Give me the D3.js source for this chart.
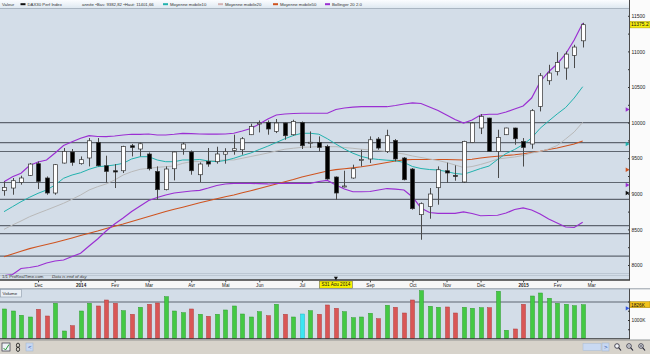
<!DOCTYPE html>
<html>
<head>
<meta charset="utf-8">
<script src="https://cdnjs.cloudflare.com/ajax/libs/d3/7.8.5/d3.min.js"></script>
<style>
  body { margin: 0; background: #fff; }
  svg { display: block; font-family: "Liberation Sans", Arial, sans-serif; }
</style>
</head>
<body>
<svg id="chart" width="650" height="354"></svg>
<script>
// DAX30 weekly candles, Nov 2013 -> Feb 2015
const weeks = d3.utcMonday.range(new Date(Date.UTC(2013, 10, 4)), new Date(Date.UTC(2015, 1, 24)));

const open = [9044,9081,9160,9258,9423,9222,9011,9432,9587,9423,
  9503,9722,9394,9324,9324,9675,9629,9559,9314,9058,
  9352,9629,9587,9268,9455,9451,9556,9609,9619,9830,
  9984,10002,9876,9994,9830,10002,9718,9722,9665,9236,
  9096,9222,9475,9489,9769,9595,9750,9503,9348,8707,
  8823,9086,9324,9258,9166,9722,9924,10064,9595,9830,
  9924,9736,9699,10227,10588,10718,10766,10943,11149];
const high = [9174,9222,9254,9432,9455,9244,9418,9643,9629,9525,
  9783,9783,9535,9418,9675,9699,9722,9581,9385,9385,
  9595,9722,9609,9441,9643,9661,9640,9830,9797,9984,
  10030,10030,10050,10002,10040,10016,9876,9806,9689,9244,
  9324,9409,9619,9806,9797,9900,9769,9517,9362,8879,
  9081,9385,9437,9399,9745,10008,10120,10068,9900,9928,
  9928,9783,10190,10696,10812,10990,10999,11093,11401.66];
const low = [8973,8987,9128,9250,9067,8987,8987,9425,9394,9409,
  9385,9385,9160,9081,9292,9525,9525,9328,8917,9048,
  9188,9549,9268,9166,9380,9423,9423,9549,9549,9825,
  9862,9830,9853,9759,9816,9629,9643,9595,9198,8917,
  9090,9212,9385,9432,9619,9573,9455,9188,8777,8355,
  8650,8847,9156,9184,9152,9713,9839,9590,9222,9825,
  9689,9382.82,9633,10157,10531,10662,10602,10766,11055];
const close = [9090,9184,9222,9418,9174,9011,9409,9595,9441,9479,
  9745,9394,9314,9306,9665,9651,9703,9352,9058,9348,
  9587,9699,9324,9418,9418,9559,9590,9633,9773,9946,
  9994,9910,9994,9816,10016,9675,9724,9651,9208,9011,
  9110,9352,9482,9759,9643,9816,9489,9198,8791,8861,
  8997,9338,9292,9250,9736,9994,10087,9595,9792,9924,
  9773,9651,10167,10658,10696,10844,10962,11061,11375.2];

const ma10 = [8749,8819,8889,8951,9007,9053,9124,9218,9264,9296,
  9344,9381,9390,9405,9428,9489,9521,9521,9475,9451,
  9451,9475,9475,9482,9461,9451,9468,9499,9538,9573,
  9622,9669,9721,9773,9819,9850,9850,9837,9773,9699,
  9629,9570,9524,9496,9482,9472,9465,9440,9383,9355,
  9341,9334,9313,9285,9274,9313,9355,9390,9482,9566,
  9622,9692,9784,9920,10022,10121,10212,10345,10504];
const ma20 = [8501,8562,8618,8678,8726,8772,8819,8867,8923,8983,
  9053,9100,9138,9194,9264,9310,9344,9358,9372,9381,
  9390,9428,9451,9454,9461,9468,9475,9475,9499,9524,
  9548,9573,9601,9626,9640,9652,9657,9662,9662,9662,
  9650,9639,9626,9615,9608,9594,9576,9559,9531,9510,
  9489,9468,9440,9405,9369,9383,9412,9447,9489,9503,
  9517,9538,9573,9594,9629,9678,9770,9868,10004];
const ma50 = [8117,8155,8192,8230,8260,8288,8317,8347,8379,8413,
  8447,8478,8513,8544,8576,8611,8646,8681,8716,8751,
  8782,8812,8843,8874,8902,8930,8958,8983,9014,9044,
  9074,9105,9138,9169,9201,9236,9264,9292,9320,9339,
  9351,9364,9379,9398,9419,9440,9461,9476,9482,9482,
  9482,9482,9482,9478,9475,9486,9503,9517,9528,9538,
  9548,9562,9580,9598,9622,9643,9671,9699,9742];
const bbUpper = [9170,9240,9288,9398,9447,9475,9573,9678,9732,9780,
  9816,9805,9802,9812,9826,9836,9836,9840,9826,9826,
  9836,9850,9844,9840,9837,9837,9840,9850,9882,9917,
  9980,10051,10107,10121,10128,10131,10131,10131,10131,10184,
  10205,10216,10223,10223,10223,10223,10240,10261,10278,10268,
  10219,10170,10107,10044,9994,10037,10107,10117,10117,10149,
  10191,10233,10345,10574,10715,10823,10964,11160,11395];
const bbLower = [7850,7867,7951,7965,7986,8028,8056,8070,8119,8164,
  8267,8365,8478,8576,8660,8751,8829,8906,8948,8983,
  9011,9025,9039,9049,9081,9117,9138,9147,9147,9147,
  9142,9138,9145,9147,9147,9147,9147,9173,9187,9124,
  9067,9029,9029,9032,9053,9074,9067,9053,8955,8801,
  8737,8726,8726,8726,8747,8723,8692,8695,8699,8730,
  8780,8801,8772,8716,8646,8590,8534,8527,8600];

// volume in thousands
const volume = [1595,1486,1254,1162,1578,1216,1903,405,692,1486,
  1903,1757,2081,1903,1503,1308,1686,1849,1919,2259,
  1486,1395,1595,1308,1200,1308,1541,1757,1324,1162,
  1449,1232,1849,1308,1162,1324,1503,1308,1811,1632,
  1449,1124,1162,1362,1070,1795,1686,1378,2081,2584,
  1741,1686,1703,1378,1686,1632,1665,1665,2551,443,
  514,1849,2297,2459,2173,1903,1849,1773,1826];

// support / resistance lines drawn on the chart
const levels = [10000, 9720, 9594, 9159, 8923, 8552, 8440, 8126];
const faintLevels = [7892, 7864];
const volumeLevel = 1970;

const monthStarts = ['2013-12-02','2014-01-06','2014-02-03','2014-03-03','2014-04-07','2014-05-05',
  '2014-06-02','2014-07-07','2014-08-04','2014-09-01','2014-10-06','2014-11-03','2014-12-01',
  '2015-01-05','2015-02-02','2015-03-02'];
const monthLabels = ['Dec','2014','Fev','Mar','Avr','Mai','Jun','Jul','Aou','Sep','Oct','Nov','Dec','2015','Fev','Mar'];
const yearLabels = ['2014', '2015'];
const priceTicks = d3.range(8000, 11501, 250);
const volumeTicks = [500, 1000, 1500, 2000];

const cursorWeek = '2014-08-04';
const cursorLabel = 'S31 Aou 2014';
const cyanVolumeWeek = '2014-07-07';

const colors = {
  bg: '#d3dde8',
  ma10: '#22b2ae',
  ma20: '#b9b9b9',
  ma50: '#cf5420',
  bb: '#9b2fd2',
  level: '#5f6670',
  up: '#44c944',
  down: '#d95656',
  cyan: '#3ce6f2'
};

const parseDay = d3.utcParse('%Y-%m-%d');
const svg = d3.select('#chart');
const plotRight = 629;

const x = d3.scaleUtc()
  .domain([weeks[0], new Date(Date.UTC(2015, 2, 2))])
  .range([4, 591.2]);
const y = d3.scaleLinear().domain([8000, 11500]).range([265, 15.8]);
const yv = d3.scaleLinear().domain([0, 1000]).range([338.5, 320]);

const cursorIdx = weeks.findIndex(d => +d === +parseDay(cursorWeek));
const cyanIdx = weeks.findIndex(d => +d === +parseDay(cyanVolumeWeek));

function init() {
  drawFrame();
  drawPricePanel();
  drawLegend();
  drawDateAxis();
  drawVolumePanel();
  drawToolbar();
}

function drawFrame() {
  const defs = svg.append('defs');
  const grad = defs.append('linearGradient').attr('id', 'legendGrad')
    .attr('x1', 0).attr('y1', 0).attr('x2', 0).attr('y2', 1);
  grad.append('stop').attr('offset', '0%').attr('stop-color', '#fbfdff');
  grad.append('stop').attr('offset', '100%').attr('stop-color', '#dde7f0');

  defs.append('clipPath').attr('id', 'priceClip')
    .append('rect').attr('x', 0).attr('y', 9).attr('width', plotRight).attr('height', 266);

  svg.append('rect').attr('width', 650).attr('height', 354).attr('fill', colors.bg);
  // right scale column
  svg.append('rect').attr('x', plotRight).attr('y', 0).attr('width', 650 - plotRight).attr('height', 339)
    .attr('fill', '#fbfbfb');
}

function drawPricePanel() {
  const g = svg.append('g');

  g.selectAll('line.faint')
    .data(faintLevels)
    .enter().append('line')
    .attr('x1', 0).attr('x2', plotRight)
    .attr('y1', d => Math.round(y(d)) + 0.5).attr('y2', d => Math.round(y(d)) + 0.5)
    .attr('stroke', '#bcc7d3').attr('stroke-width', 1);

  g.selectAll('line.level')
    .data(levels)
    .enter().append('line')
    .attr('x1', 0).attr('x2', plotRight)
    .attr('y1', d => y(d)).attr('y2', d => y(d))
    .attr('stroke', colors.level).attr('stroke-width', 1.2);

  const lines = g.append('g').attr('clip-path', 'url(#priceClip)');
  const series = [
    { values: ma50, color: colors.ma50, w: 1.1 },
    { values: ma20, color: colors.ma20, w: 1 },
    { values: ma10, color: colors.ma10, w: 1 },
    { values: bbUpper, color: colors.bb, w: 1.2 },
    { values: bbLower, color: colors.bb, w: 1.2 }
  ];
  const line = d3.line().x((d, i) => x(weeks[i])).y(d => y(d));
  series.forEach(s => {
    lines.append('path')
      .attr('d', line(s.values))
      .attr('fill', 'none')
      .attr('stroke', s.color)
      .attr('stroke-width', s.w);
  });

  const candles = g.selectAll('g.candle')
    .data(weeks)
    .enter().append('g')
    .attr('class', 'candle');

  candles.append('line')
    .attr('x1', d => Math.round(x(d)) + 0.5).attr('x2', d => Math.round(x(d)) + 0.5)
    .attr('y1', (d, i) => y(high[i])).attr('y2', (d, i) => y(low[i]))
    .attr('stroke', '#4a4a4a').attr('stroke-width', 1);

  candles.append('rect')
    .attr('x', d => Math.round(x(d)) - 1.5)
    .attr('width', 4)
    .attr('y', (d, i) => y(Math.max(open[i], close[i])))
    .attr('height', (d, i) => Math.max(1, Math.abs(y(open[i]) - y(close[i]))))
    .attr('fill', (d, i) => close[i] >= open[i] ? '#ffffff' : '#000000')
    .attr('stroke', '#333')
    .attr('stroke-width', 0.7);

  // price scale
  const axis = d3.axisRight(y)
    .tickValues(priceTicks)
    .tickSize(2)
    .tickPadding(1.5)
    .tickFormat(d => d % 500 === 0 ? d : '');
  const ag = svg.append('g')
    .attr('transform', `translate(${plotRight - 1},0)`)
    .call(axis);
  ag.select('.domain').remove();
  ag.selectAll('line').attr('stroke', '#333');
  ag.selectAll('text').attr('font-size', 5).attr('fill', '#222');

  // cursor value markers on the right edge
  const markers = [
    { v: bbUpper[cursorIdx], c: colors.bb },
    { v: ma10[cursorIdx], c: colors.ma10 },
    { v: ma50[cursorIdx], c: colors.ma50 },
    { v: bbLower[cursorIdx], c: colors.bb },
    { v: close[cursorIdx], c: '#111' }
  ];
  svg.selectAll('path.marker')
    .data(markers)
    .enter().append('path')
    .attr('d', d3.symbol(d3.symbolTriangle).size(9))
    .attr('transform', d => `translate(${plotRight - 2},${y(d.v)}) rotate(90)`)
    .attr('fill', d => d.c);

  // last price box
  const lastY = y(close[close.length - 1]);
  svg.append('rect')
    .attr('x', plotRight + 1).attr('y', lastY - 3.2)
    .attr('width', 650 - plotRight - 1).attr('height', 6.4)
    .attr('fill', '#f6ee10').attr('stroke', '#a89a00').attr('stroke-width', 0.5);
  svg.append('text')
    .attr('x', plotRight + 2).attr('y', lastY + 1.8)
    .attr('font-size', 5).attr('fill', '#111')
    .text(d3.format('.1f')(close[close.length - 1]));

  svg.append('text')
    .attr('x', 2).attr('y', 277.6)
    .attr('font-size', 4.3).attr('fill', '#333')
    .text('1/1 ProRealTime.com');
  svg.append('text')
    .attr('x', 52).attr('y', 277.6)
    .attr('font-size', 4.3).attr('font-style', 'italic').attr('fill', '#333')
    .text('Data is end of day');

  svg.append('line')
    .attr('x1', plotRight + 0.5).attr('x2', plotRight + 0.5)
    .attr('y1', 0).attr('y2', 339)
    .attr('stroke', '#4b4b4b').attr('stroke-width', 1);
}

function drawLegend() {
  const g = svg.append('g');
  g.append('rect').attr('x', 0).attr('y', 0).attr('width', plotRight).attr('height', 8.5)
    .attr('fill', 'url(#legendGrad)');
  g.append('line').attr('x1', 0).attr('x2', plotRight).attr('y1', 8.5).attr('y2', 8.5)
    .attr('stroke', '#9eabb8').attr('stroke-width', 0.8);

  const items = [
    { x: 2, text: 'Valeur' },
    { x: 20.5, swatch: '#111', text: 'DAX30 Perf Index' },
    { x: 82, text: 'année •Bas: 9382,82 •Haut: 11401,66' },
    { x: 163, swatch: colors.ma10, text: 'Moyenne mobile10' },
    { x: 218, swatch: '#d4b2b2', text: 'Moyenne mobile20' },
    { x: 273, swatch: colors.ma50, text: 'Moyenne mobile50' },
    { x: 325, swatch: colors.bb, text: 'Bollinger 20 2.0' }
  ];
  items.forEach(it => {
    let tx = it.x;
    if (it.swatch) {
      g.append('rect').attr('x', it.x).attr('y', 3.2).attr('width', 5).attr('height', 2)
        .attr('fill', it.swatch);
      tx = it.x + 7;
    }
    g.append('text').attr('x', tx).attr('y', 6)
      .attr('font-size', 4.3).attr('fill', '#333').text(it.text);
  });
}

function drawDateAxis() {
  const g = svg.append('g');
  g.append('rect').attr('x', 0).attr('y', 280).attr('width', plotRight + 1).attr('height', 8.6)
    .attr('fill', '#f7f7f7');
  g.append('line').attr('x1', 0).attr('x2', plotRight + 1).attr('y1', 280).attr('y2', 280)
    .attr('stroke', '#3c3c3c').attr('stroke-width', 1.6);

  const tickDates = monthStarts.map(parseDay);
  // the month under the cursor box is hidden by it, so no label there
  const axis = d3.axisBottom(x)
    .tickValues(tickDates)
    .tickSize(1.8)
    .tickPadding(1)
    .tickFormat((d, i) => monthStarts[i] === cursorWeek ? '' : monthLabels[i]);
  const ag = g.append('g').attr('transform', 'translate(0,280.5)').call(axis);
  ag.select('.domain').remove();
  ag.selectAll('line').attr('stroke', '#444');
  ag.selectAll('text')
    .attr('font-size', 4.6)
    .attr('fill', '#222')
    .attr('font-weight', (d, i) => yearLabels.includes(monthLabels[i]) ? 'bold' : 'normal');

  // cursor
  const cx = x(weeks[cursorIdx]);
  svg.append('path')
    .attr('d', d3.symbol(d3.symbolTriangle).size(7))
    .attr('transform', `translate(${cx},278) rotate(180)`)
    .attr('fill', '#111');
  svg.append('rect')
    .attr('x', cx - 16.5).attr('y', 281).attr('width', 33).attr('height', 7.2)
    .attr('fill', '#f8f200').attr('stroke', '#555').attr('stroke-width', 0.5);
  svg.append('text')
    .attr('x', cx).attr('y', 286.3)
    .attr('text-anchor', 'middle')
    .attr('font-size', 4.6).attr('fill', '#111')
    .text(cursorLabel);

  svg.append('line').attr('x1', 0).attr('x2', 650).attr('y1', 288.8).attr('y2', 288.8)
    .attr('stroke', '#7c8894').attr('stroke-width', 0.8);
}

function drawVolumePanel() {
  const g = svg.append('g');

  g.append('line')
    .attr('x1', 0).attr('x2', plotRight)
    .attr('y1', yv(volumeLevel)).attr('y2', yv(volumeLevel))
    .attr('stroke', colors.level).attr('stroke-width', 1.1);

  g.selectAll('rect.vol')
    .data(weeks)
    .enter().append('rect')
    .attr('class', 'vol')
    .attr('x', d => Math.round(x(d)) - 1.5)
    .attr('width', 4)
    .attr('y', (d, i) => yv(volume[i]))
    .attr('height', (d, i) => yv(0) - yv(volume[i]))
    .attr('fill', (d, i) => i === cyanIdx ? colors.cyan : (close[i] >= open[i] ? colors.up : colors.down))
    .attr('stroke', (d, i) => i === cyanIdx ? '#1cb8c4' : (close[i] >= open[i] ? '#2f9c2f' : '#b03c3c'))
    .attr('stroke-width', 0.5);

  g.append('line').attr('x1', 0).attr('x2', plotRight + 1).attr('y1', 338.8).attr('y2', 338.8)
    .attr('stroke', '#333').attr('stroke-width', 1.2);

  // Volume tag
  g.append('rect').attr('x', 0.5).attr('y', 289.5).attr('width', 21).attr('height', 7.5)
    .attr('fill', '#e9eff5').attr('stroke', '#8c9aa8').attr('stroke-width', 0.6);
  g.append('text').attr('x', 2.5).attr('y', 294.8)
    .attr('font-size', 4.4).attr('fill', '#222').text('Volume');

  const axis = d3.axisRight(yv)
    .tickValues(volumeTicks)
    .tickSize(2)
    .tickPadding(1.5)
    .tickFormat(d => d === 1000 ? '1000K' : '');
  const ag = svg.append('g').attr('transform', `translate(${plotRight - 1},0)`).call(axis);
  ag.select('.domain').remove();
  ag.selectAll('line').attr('stroke', '#333');
  ag.selectAll('text').attr('font-size', 4.8).attr('fill', '#222');

  const lastV = volume[volume.length - 1];
  svg.append('rect')
    .attr('x', plotRight + 1).attr('y', yv(lastV) - 3)
    .attr('width', 650 - plotRight - 1).attr('height', 6)
    .attr('fill', '#f2c21c').attr('stroke', '#a07c00').attr('stroke-width', 0.5);
  svg.append('text')
    .attr('x', plotRight + 2).attr('y', yv(lastV) + 1.8)
    .attr('font-size', 4.8).attr('fill', '#111')
    .text(lastV + 'K');

  svg.append('path')
    .attr('d', d3.symbol(d3.symbolTriangle).size(8))
    .attr('transform', `translate(${plotRight - 2},${yv(volume[cursorIdx])}) rotate(90)`)
    .attr('fill', '#3355dd');
}

function drawToolbar() {
  const g = svg.append('g');
  g.append('rect').attr('x', 0).attr('y', 339.5).attr('width', 650).attr('height', 14.5)
    .attr('fill', '#d7d3cb');
  g.append('line').attr('x1', 0).attr('x2', 650).attr('y1', 340.2).attr('y2', 340.2)
    .attr('stroke', '#8a8a8a').attr('stroke-width', 0.6);

  // left icons
  g.append('rect').attr('x', 2).attr('y', 343).attr('width', 8).attr('height', 8)
    .attr('fill', '#eef2f6').attr('stroke', '#334').attr('stroke-width', 0.7);
  g.append('path').attr('d', 'M3.5,348 L5.5,350 L9,344.5').attr('fill', 'none')
    .attr('stroke', '#2a9a3a').attr('stroke-width', 1);
  g.append('ellipse').attr('cx', 18).attr('cy', 345.3).attr('rx', 1.6).attr('ry', 2.2)
    .attr('fill', 'none').attr('stroke', '#222').attr('stroke-width', 0.9);
  g.append('ellipse').attr('cx', 18).attr('cy', 349.3).attr('rx', 1.6).attr('ry', 2.2)
    .attr('fill', 'none').attr('stroke', '#222').attr('stroke-width', 0.9);
  g.append('rect').attr('x', 26).attr('y', 343).attr('width', 7).attr('height', 8)
    .attr('fill', '#c7d8f2').attr('stroke', '#9fb3cc').attr('stroke-width', 0.5);
  g.append('text').attr('x', 28).attr('y', 349.2).attr('font-size', 6).attr('fill', '#2a4fa8').text('<');

  // right scroll + zoom icons
  g.append('rect').attr('x', 583).attr('y', 343.5).attr('width', 18).attr('height', 7)
    .attr('fill', '#c9d9f2').attr('stroke', '#a8bcd6').attr('stroke-width', 0.5);
  g.append('rect').attr('x', 602).attr('y', 343).attr('width', 7).attr('height', 8)
    .attr('fill', '#c7d8f2').attr('stroke', '#9fb3cc').attr('stroke-width', 0.5);
  g.append('text').attr('x', 604).attr('y', 349.2).attr('font-size', 6).attr('fill', '#2a4fa8').text('>');
  [617, 629, 641].forEach((cx, k) => {
    g.append('circle').attr('cx', cx).attr('cy', 346).attr('r', 2.3)
      .attr('fill', '#f4f6fa').attr('stroke', '#223').attr('stroke-width', 0.8);
    g.append('line').attr('x1', cx + 1.6).attr('y1', 347.6).attr('x2', cx + 4).attr('y2', 350.5)
      .attr('stroke', '#223').attr('stroke-width', 1.1);
    if (k > 0) {
      g.append('line').attr('x1', cx - 1.2).attr('x2', cx + 1.2).attr('y1', 346).attr('y2', 346)
        .attr('stroke', '#223').attr('stroke-width', 0.6);
    }
    if (k === 2) {
      g.append('line').attr('x1', cx).attr('x2', cx).attr('y1', 344.8).attr('y2', 347.2)
        .attr('stroke', '#223').attr('stroke-width', 0.6);
    }
  });
}

if (document.readyState === 'loading') {
  document.addEventListener('DOMContentLoaded', init);
} else {
  init();
}
</script>
</body>
</html>
